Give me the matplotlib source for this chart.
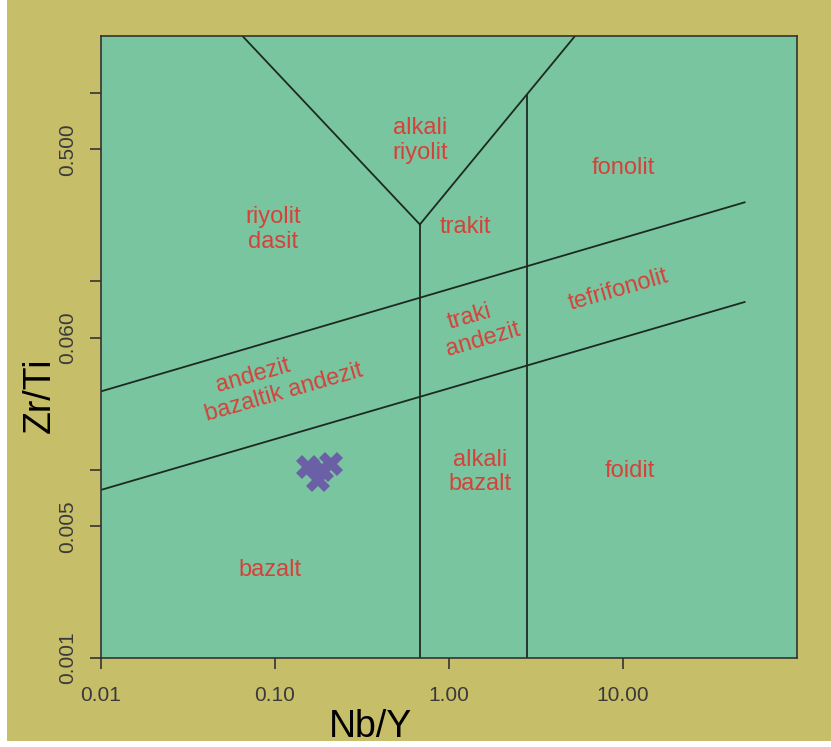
# Nb/Y vs Zr/Ti classification diagram (Winchester & Floyd, Pearce 1996)
import matplotlib.pyplot as plt
from matplotlib.patches import Rectangle

plt.rcParams['font.family'] = ['Liberation Sans', 'DejaVu Sans']

# sample points
nb_y = [0.155, 0.210, 0.177, 0.186]
zr_ti = [0.0103, 0.0107, 0.00881, 0.00996]

# field boundaries (Nb/Y, Zr/Ti)
v_left = ([0.065, 0.68], [2.0, 0.2])
v_right = ([0.68, 5.3], [0.2, 2.0])
split_low = ([0.68, 0.68], [0.001, 0.2])
split_high = ([2.8, 2.8], [0.001, 0.978])
upper_band = ([0.01, 50], [0.026, 0.262])
lower_band = ([0.01, 50], [0.0078, 0.0775])
boundaries = [v_left, v_right, split_low, split_high, upper_band, lower_band]

# field names: text, x, y, rotation
fields = [
    ("alkali\nriyolit", 0.68, 0.557, 0),
    ("riyolit\ndasit", 0.0975, 0.1875, 0),
    ("trakit", 1.25, 0.194, 0),
    ("fonolit", 10.1, 0.40, 0),
    ("tefrifonolit", 9.36, 0.090, 16),
    ("traki", 1.32, 0.0647, 16),
    ("andezit", 1.57, 0.0489, 16),
    ("andezit", 0.0748, 0.0315, 16),
    ("bazaltik andezit", 0.1127, 0.0255, 16),
    ("alkali\nbazalt", 1.51, 0.00973, 0),
    ("foidit", 11.0, 0.0098, 0),
    ("bazalt", 0.0935, 0.00293, 0),
]

yticks = [0.001, 0.005, 0.01, 0.05, 0.1, 0.5, 1]
yticklabels = ["0.001", "0.005", "", "0.060", "", "0.500", ""]
xticks = [0.01, 0.1, 1, 10]
xticklabels = ["0.01", "0.10", "1.00", "10.00"]

fig = plt.figure(figsize=(8.31, 7.47), dpi=100, facecolor='white')
fig.patches.append(Rectangle((7 / 831, 6 / 747), 1, 1, transform=fig.transFigure,
                             facecolor='#C7BE69', edgecolor='none', zorder=-10))
ax = fig.add_axes([101 / 831, 89 / 747, 696 / 831, 622 / 747])
ax.set_facecolor('#79C59F')
ax.set_xscale('log')
ax.set_yscale('log')
ax.set_xlim(0.01, 100)
ax.set_ylim(0.001, 2.0)

for bx, by in boundaries:
    ax.plot(bx, by, color='#1c2a22', lw=1.3)

for txt, tx, ty, rot in fields:
    ax.text(tx, ty, txt, color='#D5423B', fontsize=17, ha='center', va='center',
            rotation=rot, rotation_mode='anchor', linespacing=1.15)

ax.plot(nb_y, zr_ti, linestyle='none', marker='X', markersize=17,
        color='#6B60A6', markeredgewidth=0)

ax.set_xticks(xticks)
ax.set_xticklabels(xticklabels)
ax.set_yticks(yticks)
ax.set_yticklabels(yticklabels, rotation=90, va='center')
ax.minorticks_off()
ax.tick_params(axis='both', direction='out', length=8, width=1.2, color='#333333',
               labelcolor='#3a3a3a', labelsize=15)
ax.tick_params(axis='x', pad=12)
ax.tick_params(axis='y', pad=9)
for sp in ax.spines.values():
    sp.set_color('#333333')
    sp.set_linewidth(1.2)

fig.text(370 / 831, 1 - 727 / 747, "Nb/Y", fontsize=27, ha='center', va='center')
fig.text(40 / 831, 1 - 395 / 747, "Zr/Ti", fontsize=27, ha='center', va='center',
         rotation=90)

fig.savefig('out.png', dpi=100, facecolor=fig.get_facecolor())
